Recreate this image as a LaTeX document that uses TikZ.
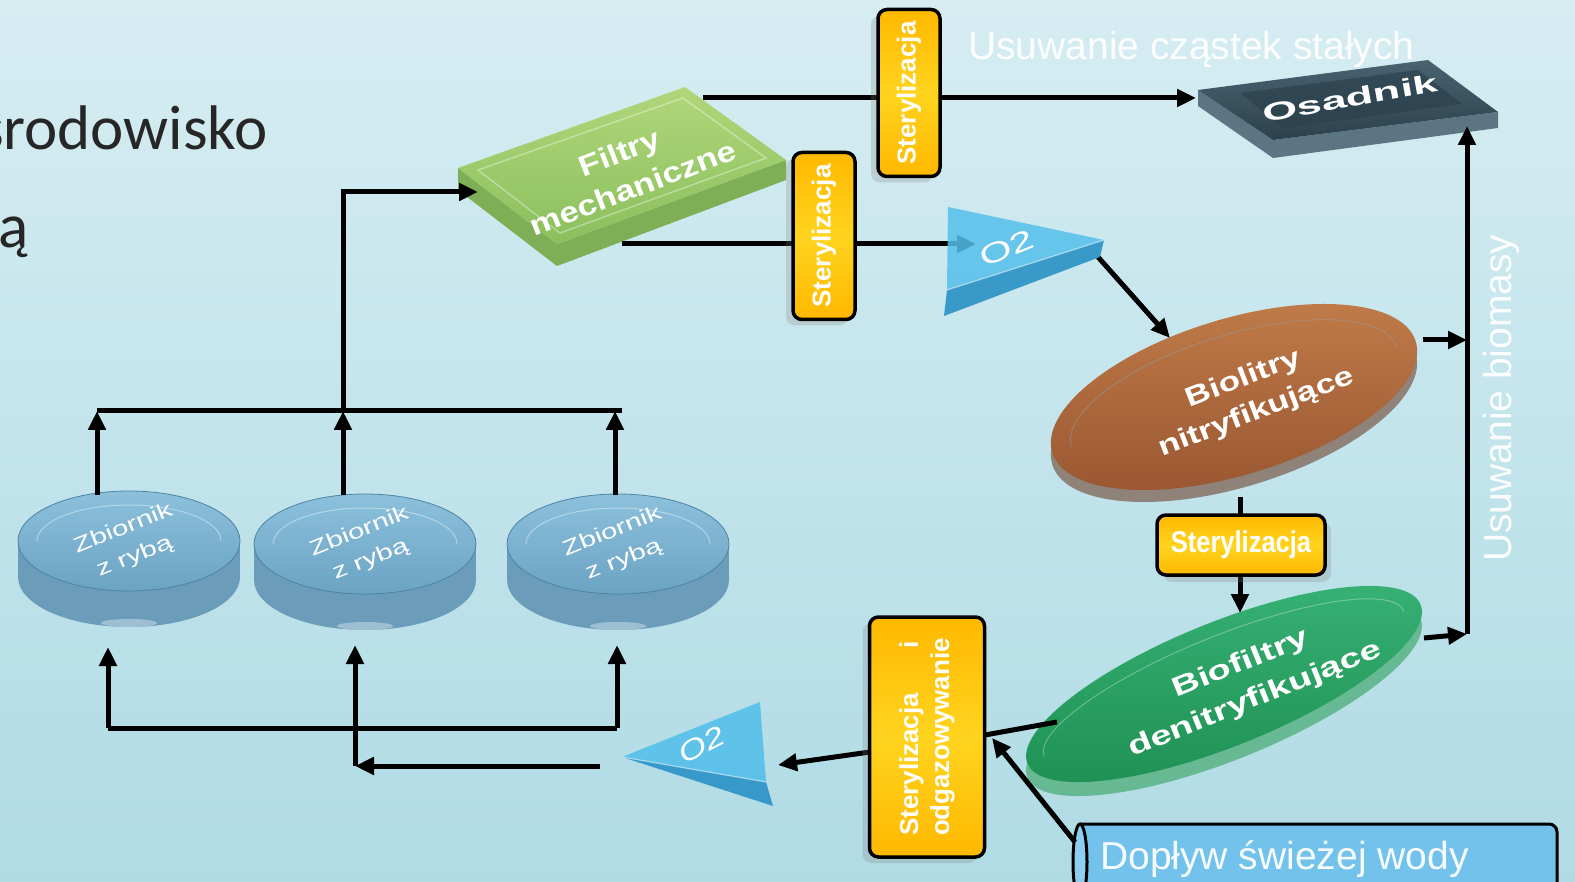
\documentclass[tikz,border=0pt]{standalone}
\usepackage{fontspec}
\setmainfont{Liberation Sans}
\newfontfamily\carlito{Carlito}
\usetikzlibrary{arrows.meta,shadows}
\definecolor{bgT}{HTML}{D6EDF2}
\definecolor{bgB}{HTML}{B0DBE5}
\definecolor{yD}{HTML}{FFB800}
\definecolor{yL}{HTML}{FFD41E}
\definecolor{tkTop}{HTML}{8CC1DC}
\definecolor{tkBot}{HTML}{6BA3C3}
\definecolor{tkSide}{HTML}{6B9DBA}
\definecolor{tkEdge}{HTML}{4E84A3}
\definecolor{gT}{HTML}{B0D77A}
\definecolor{gB}{HTML}{8BBF5E}
\definecolor{gS}{HTML}{7EAE55}
\definecolor{osT}{HTML}{2C414D}
\definecolor{osB}{HTML}{4A6371}
\definecolor{osS}{HTML}{5B7583}
\definecolor{brT}{HTML}{C07B49}
\definecolor{brB}{HTML}{985530}
\definecolor{brS}{HTML}{8E8279}
\definecolor{grT}{HTML}{38B275}
\definecolor{grB}{HTML}{1E8F52}
\definecolor{grS}{HTML}{66B993}
\definecolor{oT}{HTML}{55BFEA}
\definecolor{oB}{HTML}{2A92C7}
\definecolor{cyl}{HTML}{72C2EC}
\newcommand\fishtank[3]{%
  \fill[tkSide] (#1-111,#2) rectangle (#1+111,#2+36);
  \fill[tkSide] (#1,#2+36) ellipse[x radius=111,y radius=50];
  \fill[white,opacity=.35] (#1,#2+82) ellipse[x radius=28,y radius=4];
  \shade[top color=tkTop,bottom color=tkBot,draw=tkEdge,line width=.8pt] (#1,#2) ellipse[x radius=111,y radius=50];
  \draw[white,opacity=.4,line width=1pt] (#1-92,#2) arc[start angle=180,end angle=360,x radius=92,y radius=36];
  \node[tlbl] (#3) at (#1,#2+2) {Zbiornik\\z rybą};
}
\begin{document}
\begin{tikzpicture}[x=1pt,y=-1pt,
  arr/.style={line width=5pt,-{Triangle[length=19pt,width=17pt]}},
  ln/.style={line width=5pt},
  ybox/.style={draw=black,line width=3.5pt,rounded corners=9pt,top color=yD,bottom color=yD,middle color=yL,text=white,font=\bfseries\fontsize{26}{31}\selectfont,inner sep=0pt,align=center},
  wlbl/.style={text=white,align=center,inner sep=0pt},
  tlbl/.style={text=white,align=center,inner sep=0pt,rotate=22,xscale=1.4,font=\fontsize{21}{30}\selectfont},
  big/.style={text=white,font=\fontsize{39}{44}\selectfont,inner sep=0pt,text opacity=.95}]
\useasboundingbox (0,0) rectangle (1575,882);
\clip (0,0) rectangle (1575,882);
\shade[top color=bgT,bottom color=bgB] (0,0) rectangle (1575,882);

% left title fragments
\node[anchor=base east,inner sep=0pt,text=black!85,font=\carlito\fontsize{63}{68}\selectfont] (srod) at (268,150) {środowisko};
\node[anchor=base east,inner sep=0pt,text=black!85,font=\carlito\fontsize{63}{68}\selectfont] (aa) at (29,248) {ą};

% tanks
\fishtank{129}{541}{tank1}
\fishtank{365}{544}{tank2}
\fishtank{618}{544}{tank3}

% Filtry mechaniczne slab
\fill[gS] (458,168) -- (557,244) -- (786,160) -- (786,180) -- (557,266) -- (458,190) -- cycle;
\shade[top color=gT,bottom color=gB] (458,168) -- (685,87) -- (786,160) -- (557,244) -- cycle;
\draw[white,opacity=.35,line width=1.5pt] (478,170) -- (683,98) -- (766,158) -- (560,233) -- cycle;
\node[wlbl,rotate=21,xscale=1.2,font=\bfseries\fontsize{29}{38}\selectfont] (filtry) at (626,170) {Filtry\\mechaniczne};

% Osadnik slab
\fill[osS] (1198,90) -- (1273,140) -- (1498,112) -- (1498,128) -- (1273,158) -- (1198,106) -- cycle;
\shade[top color=osB,bottom color=osT] (1198,90) -- (1428,60) -- (1498,112) -- (1273,140) -- cycle;
\fill[osT,opacity=.7] (1240,93) -- (1418,70) -- (1462,104) -- (1283,128) -- cycle;
\node[wlbl,rotate=10,xscale=1.8,font=\bfseries\fontsize{25}{30}\selectfont] (osad) at (1350,98) {Osadnik};

% Biolitry nitryfikujace
\fill[brS,rotate around={17:(1234,409)}] (1234,409) ellipse[x radius=190,y radius=78];
\shade[top color=brT,bottom color=brB,rotate around={17:(1234,397)}] (1234,397) ellipse[x radius=190,y radius=78];
\draw[black!40,opacity=.5,line width=1pt,rotate around={17:(1234,397)}] (1064,397) arc[start angle=180,end angle=360,x radius=170,y radius=62];
\node[wlbl,rotate=21,xscale=1.3,font=\bfseries\fontsize{27}{36}\selectfont] (bnit) at (1250,396) {Biolitry\\nitryfikujące};

% Biofiltry denitryfikujace
\fill[grS,rotate around={22:(1224,698)}] (1224,698) ellipse[x radius=212,y radius=62];
\shade[top color=grT,bottom color=grB,rotate around={22:(1224,684)}] (1224,684) ellipse[x radius=212,y radius=62];
\draw[white,opacity=.3,line width=1pt,rotate around={22:(1224,684)}] (1030,684) arc[start angle=180,end angle=360,x radius=194,y radius=48];
\node[wlbl,rotate=22,xscale=1.42,font=\bfseries\fontsize{27}{38}\selectfont] (bden) at (1248,682) {Biofiltry\\denitryfikujące};

% Doplyw swiezej wody (cylinder)
\filldraw[fill=cyl,draw=black,line width=3pt,rounded corners=8pt] (1080,824) -- (1557,824) -- (1557,900) -- (1080,900);
\filldraw[fill=cyl!80!white,draw=black,line width=3pt] (1080,862) ellipse[x radius=7,y radius=38];
\node[big,anchor=base west] (dop) at (1100,869) {Dopływ świeżej wody};

% free texts
\node[big,anchor=base west] (usc) at (968,60) {Usuwanie cząstek stałych};
\node[big,anchor=base west,rotate=90] (usb) at (1511,562) {Usuwanie biomasy};

% connector end points
\coordinate (fR) at (703,98);   \coordinate (osL) at (1196,98);
\coordinate (fB) at (622,244);  \coordinate (oIn) at (976,244);
\coordinate (oOut) at (1098,257); \coordinate (bnIn) at (1170,338);
\coordinate (bnR) at (1423,340); \coordinate (vR1) at (1467,340);
\coordinate (vBot) at (1467,634); \coordinate (osBt) at (1467,126);
\coordinate (bdR) at (1424,638);
\coordinate (bnB) at (1240,497); \coordinate (s3T) at (1240,516);
\coordinate (s3B) at (1240,574); \coordinate (bdIn) at (1240,613);
\coordinate (bdL) at (1057,722); \coordinate (s4R) at (985,735);
\coordinate (s4L) at (870,752); \coordinate (o2In) at (778,765);
\coordinate (dopL) at (1075,842); \coordinate (s4R2) at (992,738);
\coordinate (o2L) at (600,766); \coordinate (jM) at (355,766); \coordinate (t2B) at (355,645);
\coordinate (jL) at (108,728); \coordinate (jR) at (617,728);
\coordinate (t1B) at (108,647); \coordinate (t3B) at (617,645);
\coordinate (t1T) at (97,495); \coordinate (h1) at (97,411);
\coordinate (t2T) at (343,495); \coordinate (h2) at (343,411);
\coordinate (t3T) at (615,495); \coordinate (h3) at (615,411);
\coordinate (hR) at (622,411);
\coordinate (up) at (343,192); \coordinate (fL) at (478,192);

% connectors
\draw[arr] (fR) -- (osL);
\draw[arr] (fB) -- (oIn);
\draw[arr] (oOut) -- (bnIn);
\draw[arr] (bnR) -- (vR1);
\draw[arr] (vBot) -- (osBt);
\draw[arr] (bdR) -- (vBot);
\draw[ln] (bnB) -- (s3T);
\draw[arr] (s3B) -- (bdIn);
\draw[ln] (bdL) -- (s4R);
\draw[arr] (s4L) -- (o2In);
\draw[arr] (dopL) -- (s4R2);
\draw[arr] (o2L) -- (jM);
\draw[arr] (jM) -- (t2B);
\draw[ln] (jL) -- (jR);
\draw[arr] (jL) -- (t1B);
\draw[arr] (jR) -- (t3B);
\draw[arr] (t1T) -- (h1);
\draw[arr] (t2T) -- (h2);
\draw[arr] (t3T) -- (h3);
\draw[ln] (h1) -- (hR);
\draw[arr] (h2) -- (up) -- (fL);

% sterilisation boxes
\node[ybox,rotate=90,minimum width=167pt,minimum height=62pt,drop shadow={shadow xshift=-7pt,shadow yshift=-6pt,opacity=.25}] (st1) at (909,93) {Sterylizacja};
\node[ybox,rotate=90,minimum width=167pt,minimum height=62pt,drop shadow={shadow xshift=-7pt,shadow yshift=-6pt,opacity=.25}] (st2) at (824,236) {Sterylizacja};
\node[ybox,minimum width=168pt,minimum height=60pt,drop shadow={shadow xshift=6pt,shadow yshift=-7pt,opacity=.25}] (st3) at (1241,545) {\scalebox{0.85}[1]{\fontsize{30}{34}\selectfont Sterylizacja}};
\node[ybox,rotate=90,minimum width=240pt,minimum height=115pt,align=left,drop shadow={shadow xshift=-7pt,shadow yshift=-6pt,opacity=.25}] (st4) at (927,737) {Sterylizacja\hspace{44pt}i\\odgazowywanie};

% O2 triangles
\fill[oT,opacity=.85] (948,207) -- (1104,240) -- (947,290) -- cycle;
\fill[oB,opacity=.9] (947,290) -- (1104,240) -- (1100,257) -- (944,316) -- cycle;
\draw[white,opacity=.5,line width=1.2pt] (947,290) -- (1104,240);
\node[wlbl,rotate=22,xscale=1.5,font=\fontsize{28}{32}\selectfont] (o2a) at (1007,248) {O2};

\fill[oT,opacity=.9] (622,757) -- (760,702) -- (766,782) -- cycle;
\fill[oB,opacity=.9] (622,757) -- (766,782) -- (773,806) -- cycle;
\draw[white,opacity=.5,line width=1.2pt] (622,757) -- (766,782);
\node[wlbl,rotate=27,xscale=1.3,font=\itshape\fontsize{28}{32}\selectfont] (o2b) at (702,745) {O2};
\end{tikzpicture}
\end{document}
